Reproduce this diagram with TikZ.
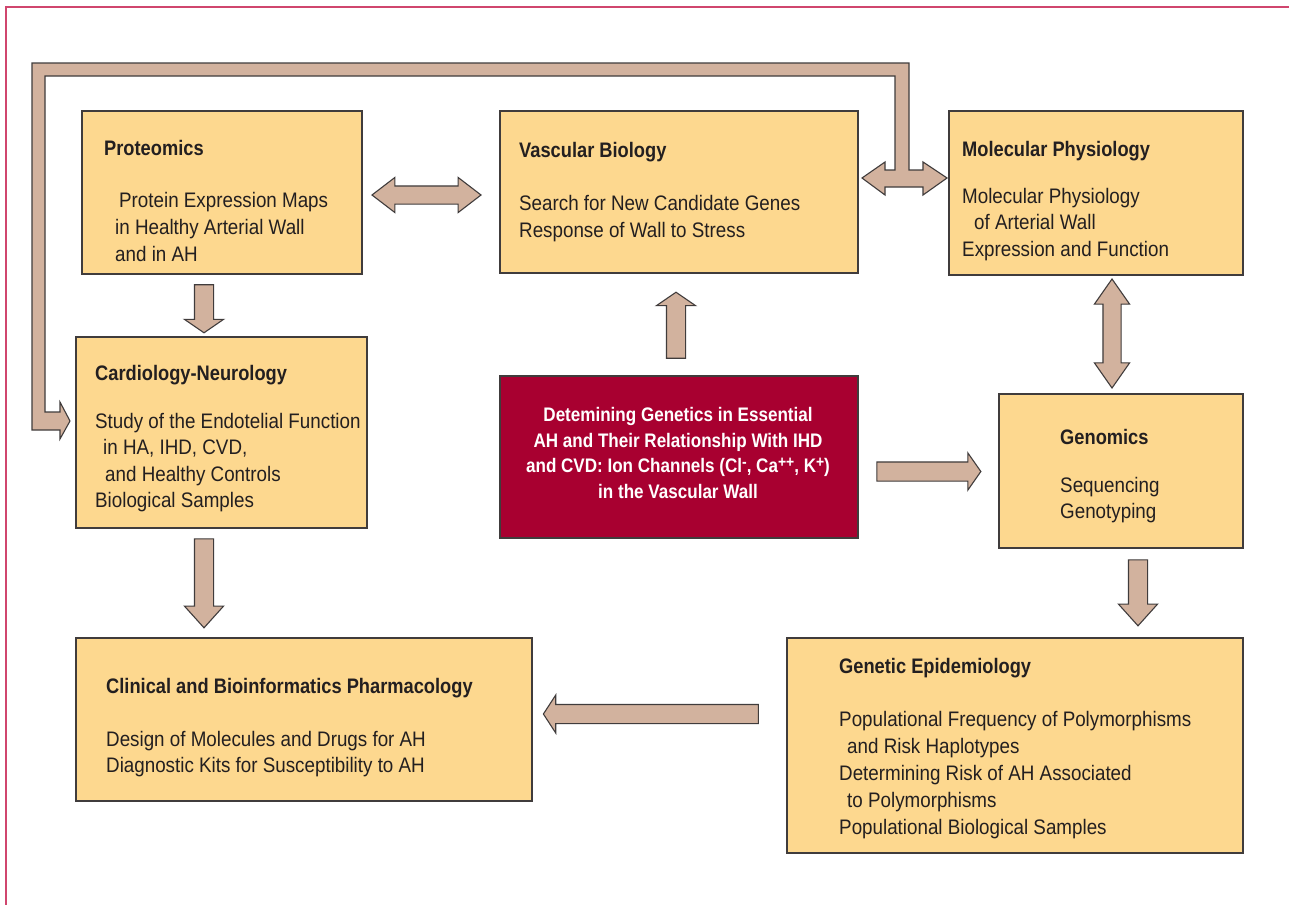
\documentclass[tikz,border=0pt]{standalone}
\usepackage{fontspec}
\setmainfont{Liberation Sans}[UprightFeatures={FakeStretch=0.895}, BoldFeatures={FakeStretch=0.87}]
\usetikzlibrary{shapes.arrows}
\definecolor{boxc}{RGB}{253,216,143}
\definecolor{arrc}{RGB}{210,178,158}
\definecolor{redc}{RGB}{168,0,48}
\definecolor{edgec}{RGB}{64,60,60}
\definecolor{framec}{RGB}{208,70,110}
\definecolor{txtc}{RGB}{35,31,32}
\tikzset{
  box/.style={draw=edgec, fill=boxc, line width=1.5pt, anchor=north west, inner sep=0pt},
  txt/.style={anchor=base west, inner sep=0pt, text=txtc, font=\fontsize{21}{26}\selectfont},
  ttl/.style={txt, font=\fontsize{21}{26}\selectfont\bfseries},
  ctr/.style={anchor=base, inner sep=0pt, text=white, font=\fontsize{19.6}{25}\selectfont\bfseries},
  arr/.style={draw=edgec, fill=arrc, line width=1.1pt, inner xsep=0pt, inner ysep=9pt},
  sarr/.style={arr, single arrow},
  darr/.style={arr, double arrow}
}
\newcommand{\sups}[1]{\raisebox{0.25em}{\fontsize{16}{16}\selectfont #1}}
\begin{document}
\begin{tikzpicture}[x=1pt,y=-1pt]
\useasboundingbox (0,0) rectangle (1289,905);
\fill[white] (0,0) rectangle (1289,905);
\draw[framec, line width=1.5pt] (1289,7) -- (6,7) -- (6,905);

% boxes
\node[box, minimum width=280, minimum height=163] (prot) at (81,110) {};
\node[box, minimum width=358, minimum height=162] (vasc) at (499,110) {};
\node[box, minimum width=294, minimum height=164] (molp) at (948,110) {};
\node[box, minimum width=291, minimum height=191] (card) at (75,336) {};
\node[box, fill=redc, minimum width=358, minimum height=162] (core) at (499,375) {};
\node[box, minimum width=244, minimum height=154] (geno) at (998,393) {};
\node[box, minimum width=456, minimum height=163] (clin) at (75,637) {};
\node[box, minimum width=456, minimum height=215] (epid) at (786,637) {};

% loop arrow with double head at Molecular Physiology
\filldraw[arr, line join=miter] (862,178) -- (885,162) -- (885,170) -- (895,170) -- (895,76) -- (45,76)
  -- (45,412) -- (60,412) -- (60,402) -- (70,421) -- (60,439) -- (60,430) -- (32,430)
  -- (32,63) -- (909,63) -- (909,170) -- (923,170) -- (923,162) -- (947,178)
  -- (923,195) -- (923,187) -- (885,187) -- (885,195) -- cycle;

% block arrows
\node[darr, inner ysep=8.5pt, minimum height=109, double arrow head extend=8.5, double arrow tip angle=75] (aPV) at (426.5,195) {};
\node[sarr, minimum height=48, single arrow head extend=10, single arrow tip angle=111, rotate=-90] (aPC) at (204,305.5) {};
\node[sarr, minimum height=66, single arrow head extend=10, single arrow tip angle=111, rotate=90] (aCV) at (676,328.5) {};
\node[sarr, minimum height=104, single arrow head extend=9, single arrow tip angle=110] (aCG) at (925.5,471.5) {};
\node[darr, inner ysep=8.5pt, minimum height=109, double arrow head extend=8.5, double arrow tip angle=70, rotate=90] (aMG) at (1112,333.5) {};
\node[sarr, minimum height=89, single arrow head extend=10, single arrow tip angle=84, rotate=-90] (aCC) at (204,578) {};
\node[sarr, minimum height=66, single arrow head extend=10, single arrow tip angle=84, rotate=-90] (aGE) at (1138,587.5) {};
\node[sarr, minimum height=215, single arrow head extend=9.5, single arrow tip angle=114, rotate=180] (aEC) at (654,714) {};

% Proteomics
\node[ttl] (p0) at (104,155.5) {Proteomics};
\node[txt] (p1) at (119,207.5) {Protein Expression Maps};
\node[txt] (p2) at (115,234.5) {in Healthy Arterial Wall};
\node[txt] (p3) at (115,261.5) {and in AH};

% Vascular Biology
\node[ttl] (v0) at (519,157.5) {Vascular Biology};
\node[txt] (v1) at (519,210) {Search for New Candidate Genes};
\node[txt] (v2) at (519,237) {Response of Wall to Stress};

% Molecular Physiology
\node[ttl] (m0) at (962,156) {Molecular Physiology};
\node[txt] (m1) at (962,203) {Molecular Physiology};
\node[txt] (m2) at (974,229.5) {of Arterial Wall};
\node[txt] (m3) at (962,256.5) {Expression and Function};

% Cardiology-Neurology
\node[ttl] (c0) at (95,380.5) {Cardiology-Neurology};
\node[txt] (c1) at (95,428) {Study of the Endotelial Function};
\node[txt] (c2) at (103,454.5) {in HA, IHD, CVD,};
\node[txt] (c3) at (105,481) {and Healthy Controls};
\node[txt] (c4) at (95,507.5) {Biological Samples};

% core
\node[ctr] (r1) at (678,421.5) {Detemining Genetics in Essential};
\node[ctr] (r2) at (678,447) {AH and Their Relationship With IHD};
\node[ctr] (r3) at (678,472.5) {and CVD: Ion Channels (Cl\sups{-}, Ca\sups{++}, K\sups{+})};
\node[ctr] (r4) at (678,498) {in the Vascular Wall};

% Genomics
\node[ttl] (g0) at (1060,444.5) {Genomics};
\node[txt] (g1) at (1060,492) {Sequencing};
\node[txt] (g2) at (1060,518.5) {Genotyping};

% Clinical
\node[ttl] (k0) at (106,693.5) {Clinical and Bioinformatics Pharmacology};
\node[txt] (k1) at (106,746) {Design of Molecules and Drugs for AH};
\node[txt] (k2) at (106,772.5) {Diagnostic Kits for Susceptibility to AH};

% Genetic Epidemiology
\node[ttl] (e0) at (839,673.5) {Genetic Epidemiology};
\node[txt] (e1) at (839,726) {Populational Frequency of Polymorphisms};
\node[txt] (e2) at (847,753) {and Risk Haplotypes};
\node[txt] (e3) at (839,780) {Determining Risk of AH Associated};
\node[txt] (e4) at (847,807) {to Polymorphisms};
\node[txt] (e5) at (839,834) {Populational Biological Samples};
\end{tikzpicture}
\end{document}
